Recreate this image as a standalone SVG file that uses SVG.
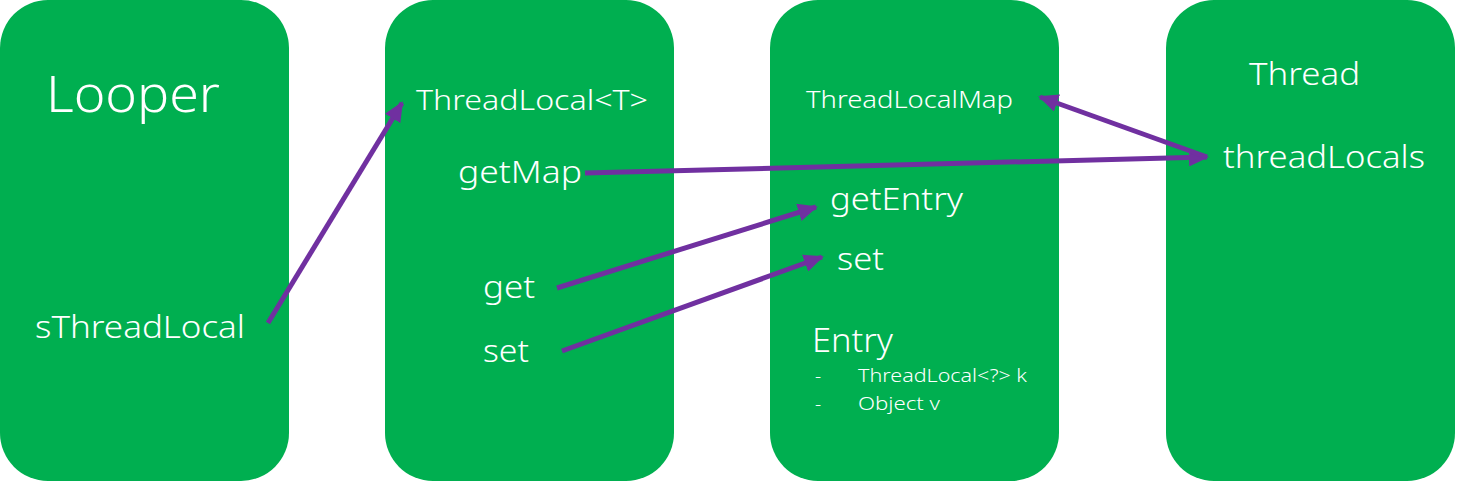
<svg xmlns="http://www.w3.org/2000/svg" width="1482" height="481" viewBox="0 0 1482 481">
<style>
.box{fill:#00AF50}
.t{fill:#fff;font-family:"Noto Sans","Open Sans",sans-serif;font-weight:300}
.c{stroke:#7030A0;stroke-width:5;fill:none;marker-end:url(#ah)}
</style>
<defs>
<marker id="ah" markerUnits="userSpaceOnUse" markerWidth="20" markerHeight="18" refX="18" refY="9" orient="auto">
<path d="M0,0 L20,9 L0,18 Z" fill="#7030A0"/>
</marker>
</defs>
<rect width="1482" height="481" fill="#fff"/>
<g id="looper">
<rect class="box" x="0" y="0" width="289" height="481" rx="48"/>
<text class="t" x="46" y="112" font-size="50" textLength="174" lengthAdjust="spacingAndGlyphs">Looper</text>
<text class="t" x="35" y="338" font-size="31" textLength="210" lengthAdjust="spacingAndGlyphs">sThreadLocal</text>
</g>
<g id="threadlocal">
<rect class="box" x="385" y="0" width="289" height="481" rx="48"/>
<text class="t" x="416" y="110" font-size="28" textLength="232" lengthAdjust="spacingAndGlyphs">ThreadLocal&lt;T&gt;</text>
<text class="t" x="458" y="183" font-size="31" textLength="124" lengthAdjust="spacingAndGlyphs">getMap</text>
<text class="t" x="483" y="298" font-size="31" textLength="52" lengthAdjust="spacingAndGlyphs">get</text>
<text class="t" x="483" y="362" font-size="31" textLength="46" lengthAdjust="spacingAndGlyphs">set</text>
</g>
<g id="threadlocalmap">
<rect class="box" x="770" y="0" width="289" height="481" rx="48"/>
<text class="t" x="806" y="108" font-size="24" textLength="207" lengthAdjust="spacingAndGlyphs">ThreadLocalMap</text>
<text class="t" x="830" y="210" font-size="31" textLength="133" lengthAdjust="spacingAndGlyphs">getEntry</text>
<text class="t" x="837" y="270" font-size="31" textLength="47" lengthAdjust="spacingAndGlyphs">set</text>
<text class="t" x="812" y="352" font-size="33" textLength="81" lengthAdjust="spacingAndGlyphs">Entry</text>
<text class="t" x="815" y="382" font-size="19">-</text>
<text class="t" x="858" y="382" font-size="19" textLength="169" lengthAdjust="spacingAndGlyphs">ThreadLocal&lt;?&gt; k</text>
<text class="t" x="815" y="410" font-size="19">-</text>
<text class="t" x="858" y="410" font-size="19" textLength="82" lengthAdjust="spacingAndGlyphs">Object v</text>
</g>
<g id="thread">
<rect class="box" x="1166" y="0" width="289" height="481" rx="48"/>
<text class="t" x="1249" y="85" font-size="31" textLength="111" lengthAdjust="spacingAndGlyphs">Thread</text>
<text class="t" x="1223" y="168" font-size="31" textLength="202" lengthAdjust="spacingAndGlyphs">threadLocals</text>
</g>
<g id="connectors">
<line class="c" x1="268" y1="323" x2="402" y2="103"/>
<line class="c" x1="585" y1="173" x2="1207" y2="157"/>
<line class="c" x1="1207" y1="157" x2="1040" y2="97"/>
<line class="c" x1="557" y1="288" x2="816" y2="207"/>
<line class="c" x1="562" y1="351" x2="822" y2="257"/>
</g>
</svg>
